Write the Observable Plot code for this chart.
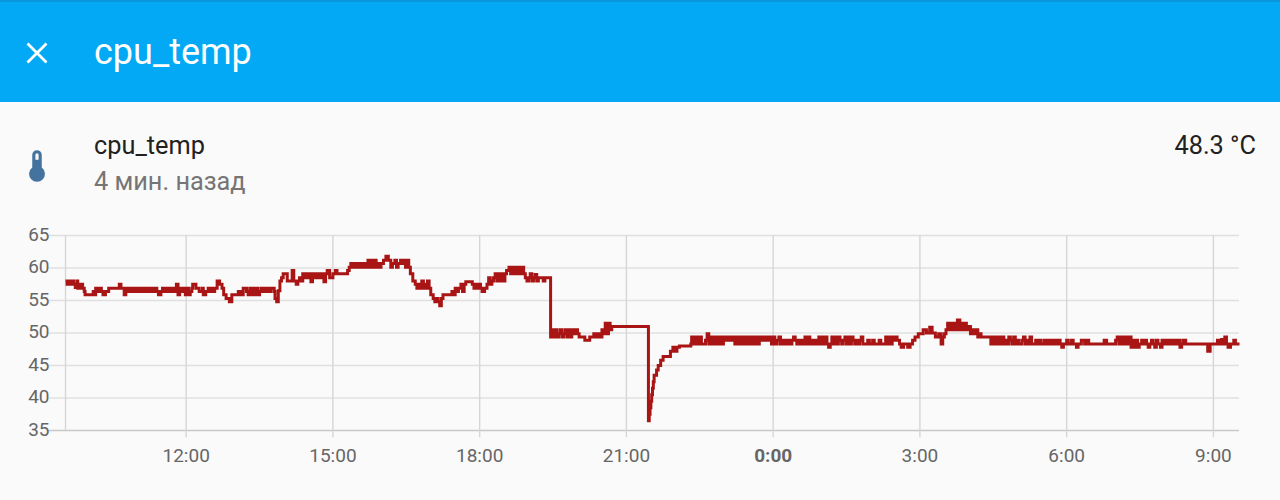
<!DOCTYPE html>
<html><head><meta charset="utf-8">
<script src="https://cdn.jsdelivr.net/npm/d3@7"></script>
<script src="https://cdn.jsdelivr.net/npm/@observablehq/plot@0.6"></script>
<style>
html,body{margin:0;padding:0;background:#fafafa;font-family:Roboto,sans-serif;width:1280px;height:500px;overflow:hidden}
#bar{position:relative;height:102px;background:#03a9f4;box-shadow:inset 0 2px 0 #0a96dc}
#bar svg{position:absolute;left:26px;top:42px}
#bar .t{position:absolute;left:94px;top:32px;font-size:36px;line-height:40px;color:#fff}
#info{position:relative;height:118px}
#info svg{position:absolute;left:18px;top:45px}
#info .n{position:absolute;left:94px;top:29px;font-size:25.3px;line-height:30px;color:#212121}
#info .s{position:absolute;left:94px;top:65px;font-size:25.3px;line-height:30px;color:#757575}
#info .v{position:absolute;right:24px;top:29px;font-size:25.3px;line-height:30px;color:#212121}
#chart svg{display:block}
</style></head><body>
<div id="bar">
<svg width="22" height="22" viewBox="0 0 22 22"><path d="M1.5 1.5L20.5 20.5M20.5 1.5L1.5 20.5" stroke="#fff" stroke-width="2.8" fill="none"/></svg>
<div class="t">cpu_temp</div>
</div>
<div id="info">
<svg width="38" height="38" viewBox="0 0 24 24"><path fill="#44739e" d="M15 13V5A3 3 0 0 0 9 5V13A5 5 0 1 0 15 13M12 4A1 1 0 0 1 13 5V8H11V5A1 1 0 0 1 12 4Z"/></svg>
<div class="n">cpu_temp</div>
<div class="s">4 мин. назад</div>
<div class="v">48.3 °C</div>
</div>
<div id="chart"></div>
<script>
// [minutes since 09:32, °C]
const morning = [[0,58],[2,57.5],[4,58],[6,57.5],[8,58],[10,57.5],[12,57],[14,58],[15,56.9],[17,57.5],[19,56.9],[20,57.5],[21,56.9],[23,56.4],[24,55.9],[34,56.4],[36,55.9],[37,56.9],[39,56.4],[41,56.9],[44,56.4],[46,55.9],[49,56.4],[53,56.9],[66,57.5],[68,56.9],[72,55.9],[74,56.9],[76,56.4],[78,56.9],[80,56.4],[82,56.9],[84,56.4],[86,56.9],[88,56.4],[90,56.9],[92,56.4],[94,56.9],[96,56.4],[98,56.9],[100,56.4],[102,56.9],[104,56.4],[106,56.9],[108,56.4],[110,56.9],[112,56.4],[114,55.9],[117,56.4],[119,56.9],[121,56.4],[123,56.9],[125,56.4],[127,56.9],[129,56.4],[131,56.9],[133,56.4],[135,56.9],[136,57.5],[138,55.9],[140,56.9],[142,56.4],[144,56.9],[146,56.4],[147,55.9],[149,56.9],[151,55.9],[153,56.4]];
const noon = [[155,56.9],[156,57.5],[160,56.9],[164,56.4],[168,56.9],[169,55.9],[172,56.4],[175,56.9],[177,56.4],[179,56.9],[181,56.4],[183,56.9],[186,58],[189,57.5],[192,56.9],[194,55.9],[197,55.3],[201,54.8],[204,55.9],[212,56.4],[215,55.9],[218,56.9],[222,56.4],[224,55.9],[226,56.9],[228,55.9],[230,56.9],[232,55.9],[234,56.9],[236,55.9],[238,56.4],[240,56.9],[242,56.4],[244,56.9],[246,56.4],[248,56.9],[250,56.4],[252,56.9],[256,56.4],[257,55.3],[259,54.8],[261,56.5],[263,58],[265,58.5],[267,59.1],[272,58],[278,59.6],[280,58],[283,57.5],[285,58],[287,58.5],[289,58],[291,59.1],[293,58.5]];
const afternoon = [[295,59.1],[297,58.5],[299,59.1],[301,57.9],[303,59.1],[305,58.5],[307,59.1],[309,58.5],[311,59.1],[313,58.5],[315,59.1],[317,57.9],[319,59.1],[321,59.6],[324,58.5],[328,59.1],[331,59.6],[333,59.1],[346,59.6],[348,60.1],[350,60.7],[353,60.1],[355,60.7],[357,60.1],[359,60.7],[361,60.1],[363,60.7],[365,60.1],[367,60.7],[369,60.1],[371,61.2],[373,60.1],[375,61.2],[377,60.1],[379,61.2],[381,60.1],[383,60.7],[385,60.1],[387,60.7],[390,61.2],[393,61.8],[396,61.2],[399,60.1],[401,60.7],[404,61.2],[406,60.1],[408,60.7],[411,61.2],[413,60.7],[415,61.2],[417,60.1],[419,61.2],[421,60.1],[423,59.1],[426,58],[429,57.5],[431,56.9],[433,57.5],[435,56.9],[437,58],[439,56.9],[441,57.5],[443,56.9],[444,58],[446,56.9],[448,55.9],[451,55.3],[453,54.8],[455,55.3],[457,54.8],[459,54.2],[461,55.3],[463,55.9]];
const evening = [[474,56.4],[476,55.9],[478,56.9],[480,56.4],[482,56.9],[485,57.5],[487,56.4],[489,57.5],[491,57.9],[499,57.5],[501,56.9],[503,57.5],[505,56.9],[507,57.5],[509,56.9],[511,56.4],[514,56.9],[517,57.5],[519,58.5],[521,57.5],[523,58],[525,58.5],[527,59.1],[529,58],[531,59.1],[533,58],[535,59.1],[537,58],[539,59.1],[541,59.6],[544,60.1],[546,59.1],[548,60.1],[550,59.1],[552,60.1],[554,59.1],[556,60.1],[558,59.1],[560,60.1],[562,59.1],[564,58.5],[566,58],[568,58.5],[570,59.1],[572,58],[574,58.5],[576,59],[578,58],[580,58.5],[582,58.5],[586,58],[588,58.5],[595,49.4]];
const drop = [[597,50.5],[599,49.4],[601,50.5],[603,49.4],[605,49.9],[607,50.5],[609,49.4],[611,49.9],[613,50.5],[615,49.4],[617,50.5],[619,49.4],[621,50.5],[623,49.9],[625,50.5],[628,49.9],[630,49.4],[637,48.9],[643,49.4],[648,49.9],[651,49.4],[654,49.9],[656,49.4],[658,50.5],[660,49.9],[662,51.5],[664,49.9],[666,51.5],[668,50.5],[670,51],[715,36.5],[716,37.5],[717,38.5],[718,39.5],[719,40.5],[720,41.5],[721,42.5],[722,43.5],[725,44.3],[727,45],[730,45.8],[733,46.4],[742,47.2],[745,47.8],[747,47.2],[750,47.8],[753,48],[767,48.3]];
const night = [[768,49.4],[770,48.3],[773,49.4],[775,48.3],[778,49.4],[780,48.3],[785,48.9],[787,49.9],[789,48.3],[791,49.4],[793,48.3],[795,49.4],[797,48.3],[799,49.4],[801,48.3],[803,49.4],[805,48.3],[807,49.4],[809,48.9],[811,49.4],[813,48.9],[815,49.4],[817,48.9],[819,49.4],[821,48.3],[823,49.4],[825,48.3],[827,49.4],[829,48.3],[831,49.4],[833,48.3],[835,49.4],[837,48.3],[839,49.4],[841,48.3],[843,49.4],[845,48.3],[847,49.4],[849,48.3],[851,49.4],[853,48.9],[855,49.4],[857,48.9],[859,49.4],[861,48.9],[863,49.4],[866,48.3],[868,49.4],[870,48.9],[871,48.3],[873,48.9],[875,49.4],[877,48.3],[879,48.9],[881,48.3],[883,48.9],[885,48.3],[887,48.9],[889,48.3],[891,48.9],[893,49.4],[895,48.9],[897,48.3],[899,48.9],[901,48.3],[903,48.9],[905,48.3],[907,49.4],[909,48.3],[911,49.4],[913,48.3],[915,48.9],[917,48.3]];
const smallHours = [[920,48.9],[922,48.3],[924,49.4],[926,48.3],[928,49.4],[930,48.3],[932,49.4],[934,48.3],[936,47.8],[938,48.3],[940,49.4],[942,48.3],[944,49.4],[946,48.3],[948,49.4],[950,48.9],[952,48.3],[954,48.9],[956,49.4],[958,48.3],[960,49.4],[962,48.3],[964,49.4],[966,48.9],[968,48.3],[970,48.9],[972,48.3],[974,48.9],[976,49.4],[978,48.3],[984,48.9],[986,48.3],[990,48.9],[992,48.3],[994,48.3],[998,48.9],[1000,48.3],[1006,49.4],[1008,48.3],[1010,49.4],[1012,48.3],[1014,49.4],[1016,48.9],[1018,49.4],[1020,48.9],[1023,48.3],[1025,47.8],[1028,48.3],[1033,47.8],[1036,48.3],[1039,48.9],[1042,49.4],[1046,49.9],[1052,50.5],[1056,50],[1060,50.9],[1063,50],[1067,49.4],[1071,49.9],[1074,48.3],[1076,49.4],[1078,49.9],[1080,50.5],[1082,51.5],[1084,50.5],[1086,51.5],[1088,50.5],[1090,51.5],[1092,50.5],[1094,52],[1097,50.5],[1099,51.5],[1101,50.5],[1103,51.5],[1105,50.5],[1107,51],[1110,49.9],[1112,50.5],[1114,49.9],[1117,50.5],[1119,49.4],[1121,49.9],[1123,49.4]];
const dawn = [[1129,49.4],[1135,48.3],[1137,49.4],[1139,48.3],[1141,49.4],[1143,48.3],[1145,49.4],[1147,48.3],[1149,49.4],[1151,48.3],[1153,48.9],[1155,48.3],[1157,49.4],[1159,48.9],[1161,48.3],[1163,49.4],[1165,48.3],[1167,48.9],[1169,48.3],[1171,48.3],[1173,48.9],[1175,49.4],[1177,48.3],[1179,48.9],[1181,48.3],[1183,49.4],[1185,48.3],[1188,48.3],[1190,48.9],[1192,48.3],[1194,48.9],[1196,48.3],[1198,48.3],[1200,48.9],[1202,48.3],[1204,48.9],[1206,48.3],[1208,48.9],[1210,48.3],[1212,48.9],[1215,48.3],[1218,48.9],[1220,48.3],[1222,47.8],[1224,48.3],[1228,48.9],[1230,48.3],[1234,48.9],[1236,48.3],[1240,47.8],[1242,48.3],[1246,48.9],[1250,48.3],[1253,48.9],[1255,48.3],[1274,48.9],[1277,48.3]];
const morning2 = [[1288,48.9],[1290,49.4],[1292,48.3],[1294,49.4],[1296,48.3],[1298,49.4],[1300,48.3],[1302,49.4],[1304,48.3],[1306,49.4],[1307,47.8],[1309,48.9],[1311,47.8],[1313,48.9],[1315,47.8],[1317,48.3],[1320,48.9],[1322,48.3],[1324,48.9],[1326,48.3],[1328,47.8],[1330,48.3],[1332,48.9],[1334,48.3],[1336,47.8],[1338,48.9],[1340,48.3],[1343,47.8],[1345,48.9],[1347,48.3],[1349,48.9],[1351,48.3],[1353,48.9],[1355,48.3],[1357,48.9],[1359,48.3],[1361,48.9],[1363,48.3],[1365,48.9],[1367,47.8],[1369,48.3],[1371,48.9],[1374,48.3],[1401,47.2],[1404,48.3],[1413,48.9],[1415,48.3],[1418,49],[1420,48.3],[1422,49.4],[1424,48.3],[1426,47.8],[1429,48.3],[1433,48.9],[1435,48.3],[1440,48.3]];

const points = [...morning,...noon,...afternoon,...evening,...drop,...night,...smallHours,...dawn,...morning2];
const yTicks = [35,40,45,50,55,60,65];
const xTicks = [148,328,508,688,1048,1228,1408];
const xLabels = ["12:00","15:00","18:00","21:00","3:00","6:00","9:00"];
const midnightTick = [868];
const midnightLabel = ["0:00"];
const gridColor = "#e0e0e0", vGridColor = "#d6d6d6", textColor = "#666666";

const chart = Plot.plot({
  width:1280, height:262, marginLeft:65, marginRight:41, marginTop:15, marginBottom:52,
  style:{background:"transparent",fontFamily:"Roboto"},
  x:{type:"linear",domain:[0,1440],axis:null},
  y:{domain:[35,65],axis:null},
  marks:[
    Plot.ruleY(yTicks.slice(1),{y:d=>d,x1:-20,x2:1440,stroke:gridColor,strokeWidth:1.6,clip:false}),
    Plot.ruleY([35],{x1:-20,x2:1440,stroke:"#c8c8c8",strokeWidth:1.6}),
    Plot.ruleX([0],{y1:35,y2:65,stroke:vGridColor,strokeWidth:1.4}),
    Plot.ruleX([...xTicks,...midnightTick],{y1:33.9,y2:65,stroke:vGridColor,strokeWidth:1.4}),
    Plot.axisY(yTicks,{anchor:"left",tickSize:0,tickPadding:16,fontSize:19,fill:textColor,label:null,dy:-1}),
    Plot.axisX(xTicks,{anchor:"bottom",tickSize:0,tickPadding:18,fontSize:19,fill:textColor,label:null,
      tickFormat:d=>xLabels[xTicks.indexOf(d)]}),
    Plot.axisX(midnightTick,{anchor:"bottom",tickSize:0,tickPadding:18,fontSize:19,fontWeight:"bold",fill:textColor,label:null,
      tickFormat:d=>midnightLabel[midnightTick.indexOf(d)]}),
    Plot.line(points,{x:d=>d[0],y:d=>d[1],curve:"step-after",stroke:"#a91515",strokeWidth:3,strokeLinejoin:"miter",strokeMiterlimit:10,strokeLinecap:"butt"})
  ]
});
document.getElementById("chart").append(chart);
</script>
</body></html>
